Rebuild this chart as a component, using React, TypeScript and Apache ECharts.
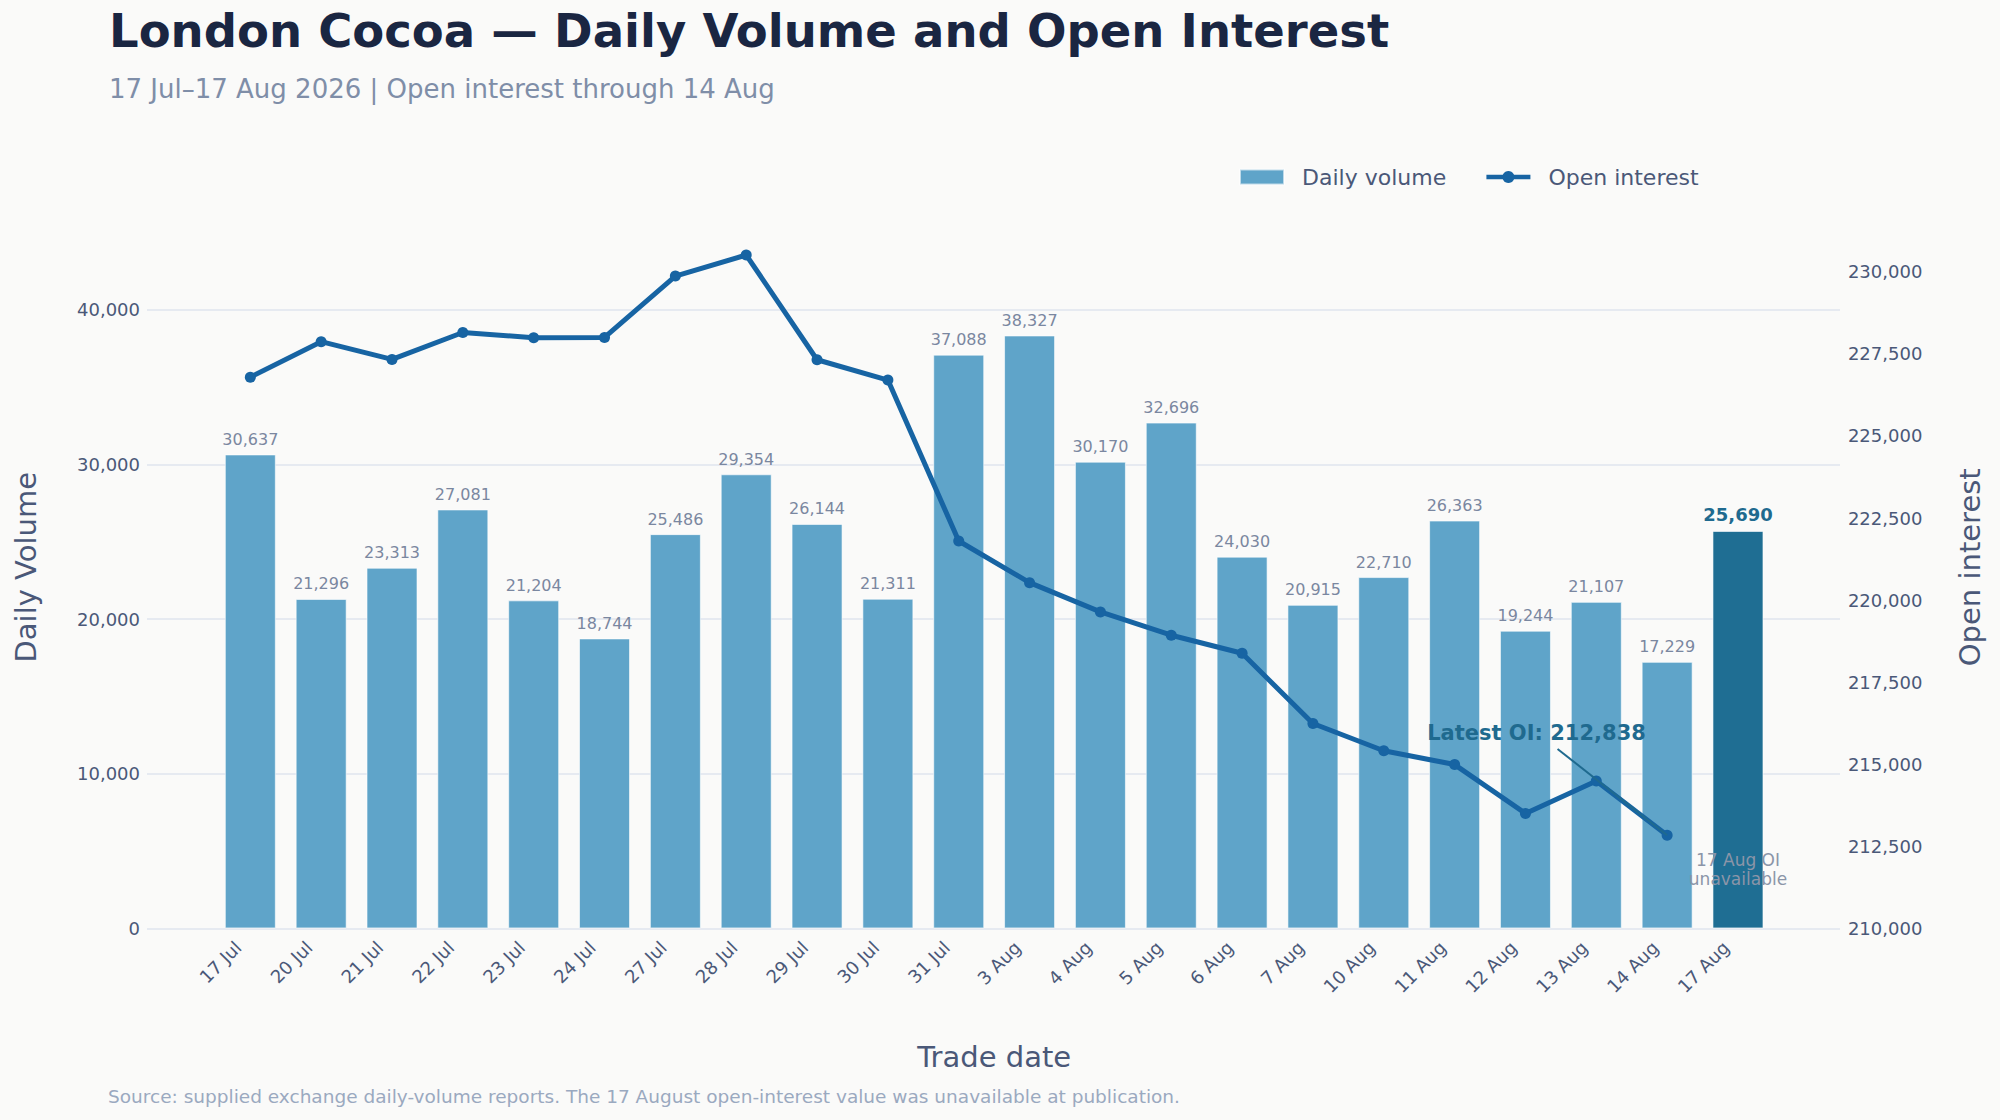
import { useEffect, useRef } from 'react';
import * as echarts from 'echarts';

const tradeDates = [
  '17 Jul', '20 Jul', '21 Jul', '22 Jul', '23 Jul', '24 Jul', '27 Jul', '28 Jul', '29 Jul', '30 Jul', '31 Jul',
  '3 Aug', '4 Aug', '5 Aug', '6 Aug', '7 Aug', '10 Aug', '11 Aug', '12 Aug', '13 Aug', '14 Aug', '17 Aug',
];
const dailyVolume = [
  30637, 21296, 23313, 27081, 21204, 18744, 25486, 29354, 26144, 21311, 37088,
  38327, 30170, 32696, 24030, 20915, 22710, 26363, 19244, 21107, 17229, 25690,
];
// 17 Aug open interest was not published
const openInterest = [
  226790, 227870, 227330, 228150, 227990, 228000, 229870, 230510, 227320, 226700, 221800,
  220530, 219640, 218930, 218380, 216240, 215410, 214990, 213500, 214490, 212838, null,
];
const volumeTicks = { min: 0, max: 40000, interval: 10000 };
const oiTicks = { min: 210000, max: 232000, interval: 2500 };
const NOTE_OI_LEVEL = 211800;

const FONT = 'DejaVu Sans';
const BG = '#fafaf9';
const AXIS = '#4a5878';
const GRID = '#dfe5ee';
const BAR = '#5fa4c9';
const BAR_LATEST = '#1f6e93';
const LINE = '#1764a3';
const TEAL = '#1f6a8f';

const fmt = (v: number) => v.toLocaleString('en-US');

export default function App() {
  const ref = useRef<HTMLDivElement>(null);

  useEffect(() => {
    if (!ref.current) return;
    const chart = echarts.init(ref.current, null, { renderer: 'svg' });
    const last = dailyVolume.length - 1;

    chart.setOption({
      animation: false,
      backgroundColor: BG,
      textStyle: { fontFamily: FONT },
      title: {
        text: 'London Cocoa — Daily Volume and Open Interest',
        subtext: '17 Jul–17 Aug 2026 | Open interest through 14 Aug',
        left: 109, top: 3, padding: 0, itemGap: 14,
        textStyle: { fontSize: 46.5, fontWeight: 'bold', color: '#1a2642', lineHeight: 56, fontFamily: FONT },
        subtextStyle: { fontSize: 26, color: '#7f8ea8', lineHeight: 32, fontFamily: FONT },
      },
      legend: {
        left: 1239, top: 164, padding: 0, itemWidth: 44, itemHeight: 15, itemGap: 38,
        textStyle: { fontSize: 22, color: AXIS, lineHeight: 26, padding: [0, 0, 0, 13], fontFamily: FONT },
        lineStyle: { width: 4.5 },
        data: [{ name: 'Daily volume', icon: 'rect' }, { name: 'Open interest', lineStyle: { width: 4.5 } }],
      },
      grid: [
        { left: 147, right: 160, top: 309.7, bottom: 191.6, outerBoundsMode: 'none' },
        { left: 214.9, right: 226.6, top: 206.1, bottom: 191.6, outerBoundsMode: 'none' },
      ],
      xAxis: [
        { gridIndex: 0, type: 'value', show: false, min: 0, max: 1 },
        {
          gridIndex: 1, type: 'category', data: tradeDates, boundaryGap: true,
          axisLine: { show: false }, axisTick: { show: false },
          axisLabel: { rotate: 45, fontSize: 18, color: AXIS, margin: 4, padding: [0, 17, 0, 0], interval: 0 },
          name: 'Trade date', nameLocation: 'middle', nameGap: 112,
          nameTextStyle: { fontSize: 29, color: AXIS, lineHeight: 34 },
        },
      ],
      yAxis: [
        {
          gridIndex: 0, type: 'value', ...volumeTicks,
          axisLine: { show: false }, axisTick: { show: false },
          axisLabel: { fontSize: 18, color: AXIS, margin: 7, formatter: (v: number) => fmt(v) },
          splitLine: { lineStyle: { color: GRID, width: 1.5 } },
        },
        {
          gridIndex: 1, type: 'value', min: 0, max: 46690,
          axisLine: { show: false }, axisTick: { show: false }, axisLabel: { show: false }, splitLine: { show: false },
          name: 'Daily Volume', nameLocation: 'middle', nameGap: 172,
          nameTextStyle: { fontSize: 29, color: AXIS, lineHeight: 34 },
        },
        {
          gridIndex: 1, type: 'value', position: 'right', offset: 66.5, ...oiTicks,
          axisLine: { show: false }, axisTick: { show: false }, splitLine: { show: false },
          axisLabel: { fontSize: 18, color: AXIS, margin: 8, showMaxLabel: false, formatter: (v: number) => fmt(v) },
          name: 'Open interest', nameLocation: 'middle', nameGap: 113,
          nameTextStyle: { fontSize: 29, color: AXIS, lineHeight: 34 },
        },
      ],
      series: [
        {
          name: 'Daily volume', type: 'bar', xAxisIndex: 1, yAxisIndex: 1, barWidth: 51,
          itemStyle: { color: BAR, borderColor: 'rgba(255,255,255,0.6)', borderWidth: 1 },
          label: {
            show: true, position: 'top', distance: 7, fontSize: 16, color: '#7a87a0',
            formatter: (p: any) => fmt(p.value),
          },
          data: dailyVolume.map((v, i) => (i === last
            ? { value: v, itemStyle: { color: BAR_LATEST }, label: { fontSize: 18, fontWeight: 'bold', color: TEAL } }
            : v)),
        },
        {
          name: 'Open interest', type: 'line', xAxisIndex: 1, yAxisIndex: 2, data: openInterest,
          symbol: 'circle', symbolSize: 11, connectNulls: false, z: 5,
          lineStyle: { width: 5, color: LINE }, itemStyle: { color: LINE },
        },
      ],
    });

    const latestIdx = openInterest.findLastIndex((v) => v != null);
    const latest = openInterest[latestIdx] as number;
    const p = chart.convertToPixel({ seriesIndex: 1 }, [latestIdx, latest]) as number[];
    const n = chart.convertToPixel({ seriesIndex: 1 }, [last, NOTE_OI_LEVEL]) as number[];

    chart.setOption({
      graphic: [
        {
          type: 'line', z: 10,
          shape: { x1: p[0] - 109.6, y1: p[1] - 86.3, x2: p[0], y2: p[1] },
          style: { stroke: TEAL, lineWidth: 2 },
        },
        {
          type: 'text', z: 10, x: p[0] - 130.6, y: p[1] - 102,
          style: {
            text: `Latest OI: ${fmt(latest)}`, align: 'center', verticalAlign: 'middle',
            font: `bold 21px ${FONT}`, fill: TEAL,
          },
        },
        {
          type: 'text', z: 10, x: n[0], y: n[1],
          style: {
            text: `${tradeDates[last]} OI\nunavailable`, align: 'center', verticalAlign: 'middle',
            font: `17px ${FONT}`, fill: '#8b95a8', lineHeight: 19.5,
          },
        },
        {
          type: 'text', x: 108, y: 1096.7,
          style: {
            text: 'Source: supplied exchange daily-volume reports. The 17 August open-interest value was unavailable at publication.',
            verticalAlign: 'middle', font: `18.5px ${FONT}`, fill: '#9aa9c0',
          },
        },
      ],
    });

    return () => chart.dispose();
  }, []);

  return <div ref={ref} style={{ position: 'fixed', left: 0, top: 0, width: 2000, height: 1120 }} />;
}
